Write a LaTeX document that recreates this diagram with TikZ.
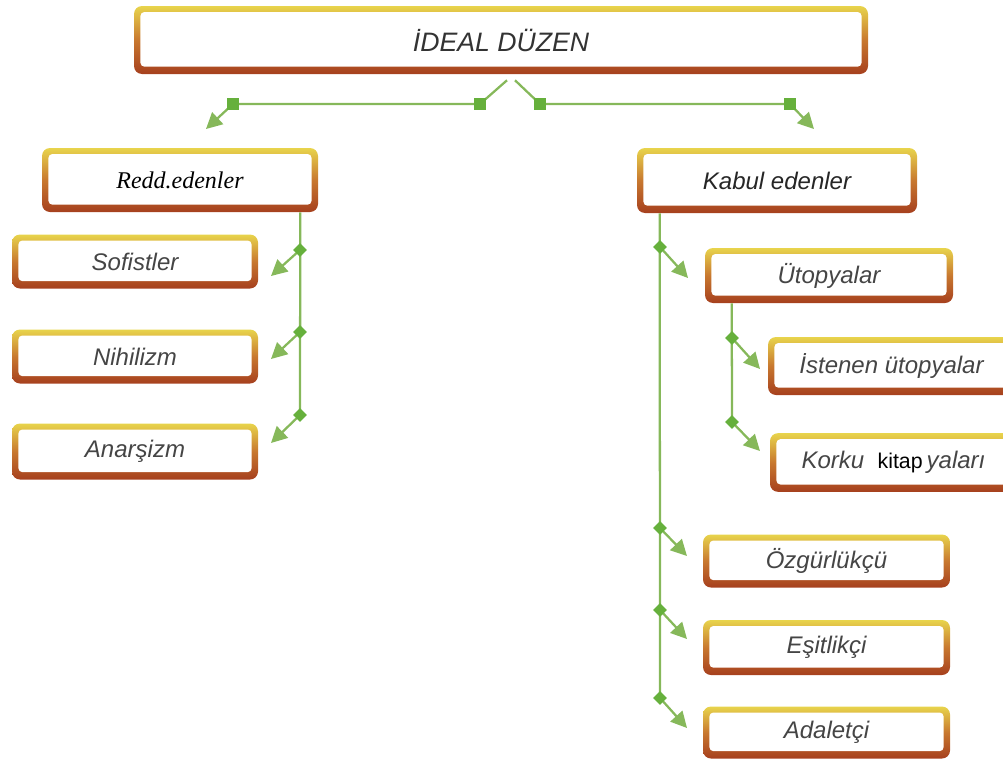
\documentclass[tikz,border=0pt]{standalone}
\usepackage{fontspec}
\setmainfont{Liberation Sans}
\newfontfamily\serifit{Liberation Serif}
\usetikzlibrary{arrows.meta,shapes.geometric}
\definecolor{cardtop}{HTML}{E8D44C}
\definecolor{cardmid}{HTML}{C8782F}
\definecolor{cardbot}{HTML}{A6401E}
\definecolor{lineg}{HTML}{86B85A}
\definecolor{markg}{HTML}{66B03C}
\definecolor{txt}{HTML}{454545}
\begin{document}
\begin{tikzpicture}[x=0.75pt,y=-0.75pt,
  card/.style 2 args={rectangle, rounded corners=6pt,
    top color=cardtop, bottom color=cardbot, middle color=cardmid,
    minimum width=#1, minimum height=#2, inner sep=0pt, text=txt,
    font=\itshape\fontsize{18}{20}\selectfont,
    path picture={\fill[white, rounded corners=3pt]
      ([xshift=4.8pt,yshift=-4.5pt]path picture bounding box.north west) rectangle
      ([xshift=-4.8pt,yshift=5.5pt]path picture bounding box.south east);}},
  conn/.style={draw=lineg, line width=1.7pt, line join=round},
  arr/.style={-{Triangle[length=12pt,width=12pt]}, draw=lineg},
  sqmark/.style={rectangle, fill=markg, minimum size=9.5pt, inner sep=0pt},
  dmmark/.style={diamond, fill=markg, minimum size=10.5pt, inner sep=0pt}]
\useasboundingbox (0,0) rectangle (1003,760);
\clip (0,0) rectangle (1003,760);

% cards
\node[card={550.5pt}{51pt}, text=black!80, font=\itshape\fontsize{20}{22}\selectfont] (top) at (501,40) {İDEAL DÜZEN};
\node[card={207pt}{48pt}, text=black, font=\serifit\itshape\fontsize{18}{20}\selectfont] (redd) at (180,180) {Redd.edenler};
\node[card={210pt}{48.75pt}, text=black!85] (kabul) at (777,180.5) {Kabul edenler};
\node[card={184.5pt}{40.5pt}] (sof) at (135,261.5) {Sofistler};
\node[card={184.5pt}{40.5pt}] (nih) at (135,356.5) {Nihilizm};
\node[card={184.5pt}{42pt}] (ana) at (135,451.5) {Anarşizm};
\node[card={186pt}{41.25pt}] (utop) at (829,275.5) {Ütopyalar};
\node[card={185.25pt}{43.5pt}] (ist) at (891.5,366) {İstenen ütopyalar};
\node[card={185.25pt}{44pt}] (kor) at (893.5,462.5) {Korku\ \ {\upshape\color{black}\fontsize{16}{18}\selectfont kitap}\,yaları};
\node[card={185.25pt}{39.75pt}] (ozg) at (826.5,561) {Özgürlükçü};
\node[card={185.25pt}{41.25pt}] (esi) at (826.5,647.5) {Eşitlikçi};
\node[card={185.25pt}{39pt}] (ada) at (826.5,732.5) {Adaletçi};

% top connectors
\coordinate (tL) at ([shift={(6,6)}]top.south);
\coordinate (tR) at ([shift={(14,6)}]top.south);
\coordinate (sqL2) at (480,104);
\coordinate (sqL1) at (233,104);
\coordinate (tipL) at (206,129);
\coordinate (sqR1) at (540,104);
\coordinate (sqR2) at (790,104);
\coordinate (tipR) at (814,129);
\draw[conn,arr] (tL) -- (sqL2) -- (sqL1) -- (tipL);
\draw[conn,arr] (tR) -- (sqR1) -- (sqR2) -- (tipR);

% left branch
\coordinate (lv0) at ([shift={(-18,0)}]redd.south east);
\coordinate (ld1) at (300,250);
\coordinate (ld2) at (300,332);
\coordinate (ld3) at (300,415);
\coordinate (lt1) at (271,276);
\coordinate (lt2) at (271,359);
\coordinate (lt3) at (271,443);
\draw[conn] (lv0) -- (ld3);
\draw[conn,arr] (ld1) -- (lt1);
\draw[conn,arr] (ld2) -- (lt2);
\draw[conn,arr] (ld3) -- (lt3);

% right branch
\coordinate (kv0) at ([shift={(23,0)}]kabul.south west);
\coordinate (kd1) at (660,247);
\coordinate (kd2) at (660,528);
\coordinate (kd3) at (660,610);
\coordinate (kd4) at (660,698);
\coordinate (kt1) at (688,278);
\coordinate (kt2) at (687,556);
\coordinate (kt3) at (687,639);
\coordinate (kt4) at (687,728);
\draw[conn] (kv0) -- (kd4);
\draw[conn,arr] (kd1) -- (kt1);
\draw[conn,arr] (kd2) -- (kt2);
\draw[conn,arr] (kd3) -- (kt3);
\draw[conn,arr] (kd4) -- (kt4);

% utopya sub-branch
\coordinate (uv0) at ([shift={(27,0)}]utop.south west);
\coordinate (ud1) at (732,338);
\coordinate (ud2) at (732,422);
\coordinate (ut1) at (760,369);
\coordinate (ut2) at (760,451);
\draw[conn] (uv0) -- (ud2);
\draw[conn,arr] (ud1) -- (ut1);
\draw[conn,arr] (ud2) -- (ut2);

% markers
\foreach \p in {sqL1,sqL2,sqR1,sqR2} \node[sqmark] at (\p) {};
\foreach \p in {ld1,ld2,ld3,kd1,kd2,kd3,kd4,ud1,ud2} \node[dmmark] at (\p) {};
\end{tikzpicture}
\end{document}
